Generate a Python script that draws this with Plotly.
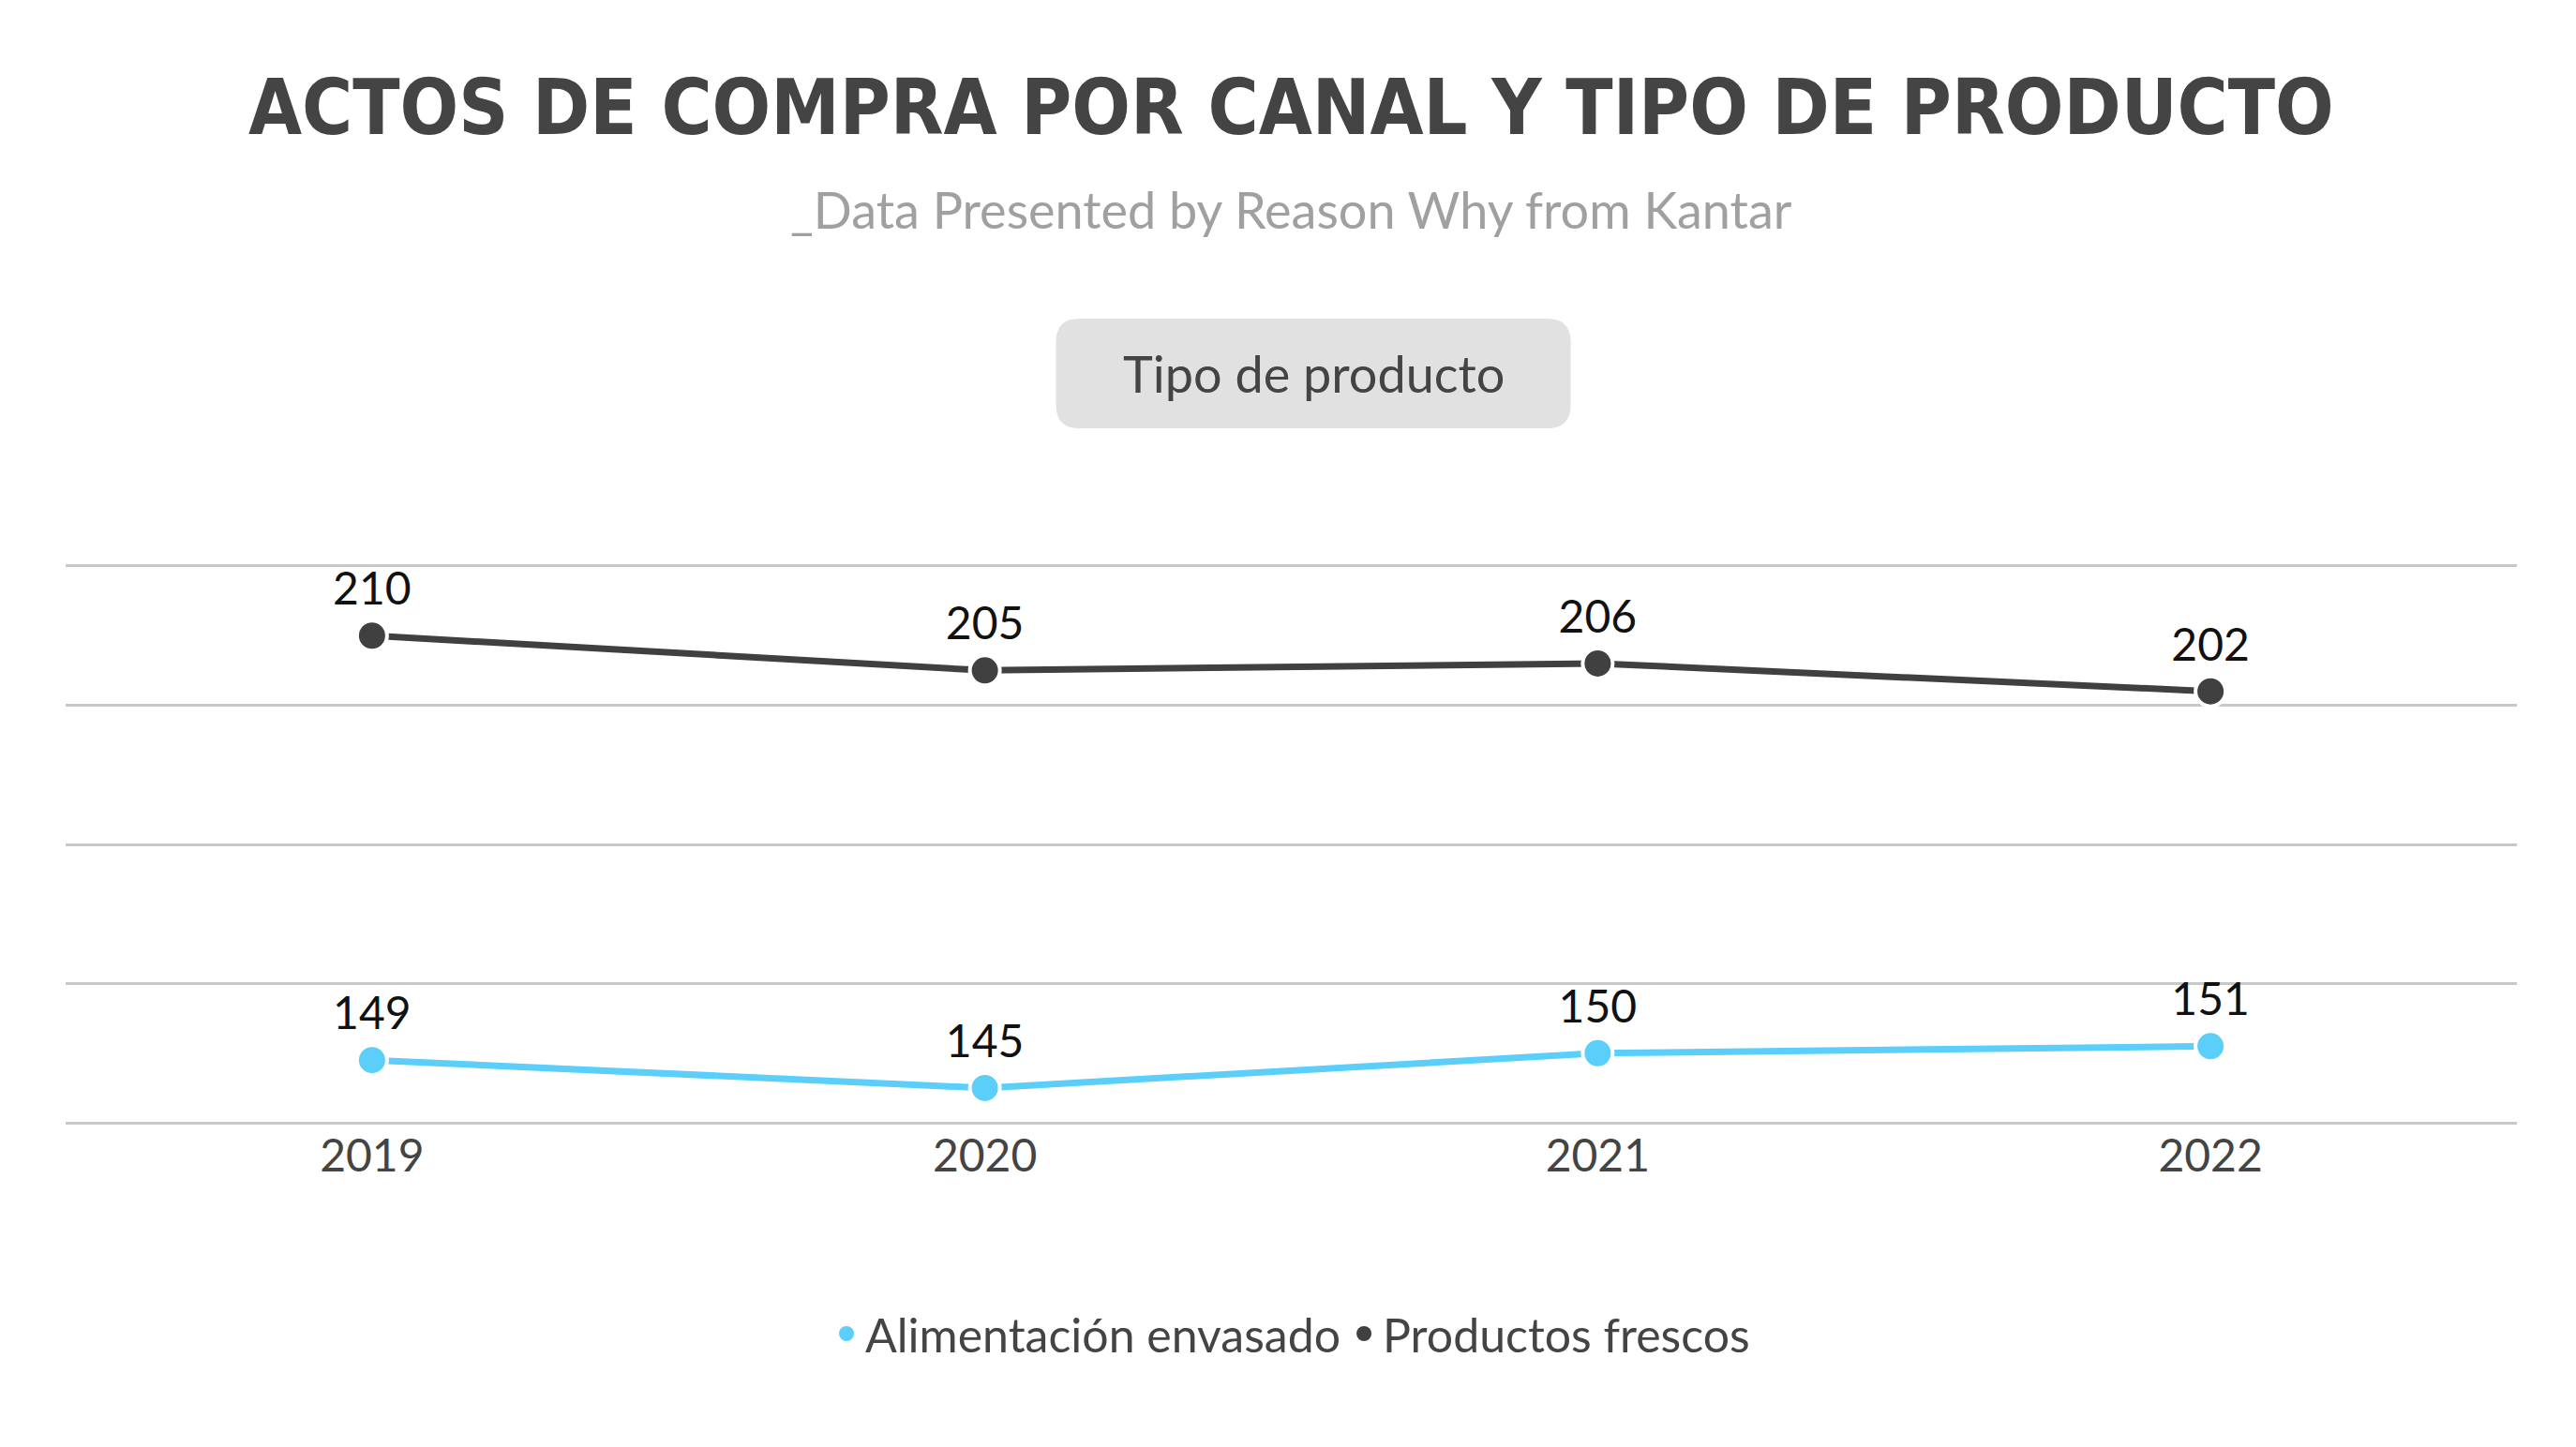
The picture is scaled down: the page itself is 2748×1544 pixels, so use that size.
import plotly.graph_objects as go

years = ["2019", "2020", "2021", "2022"]
envasado = [149, 145, 150, 151]
frescos = [210, 205, 206, 202]
series = [("Alimentación envasado", envasado, "#5bcefa"), ("Productos frescos", frescos, "#404040")]

fig = go.Figure()
for name, vals, col in series:
    fig.add_trace(go.Scatter(x=years, y=vals, name=name, mode="lines+markers+text", showlegend=False,
                             text=[str(v) for v in vals], textposition="top center",
                             textfont=dict(size=48, color="#111111", family="Lato"),
                             line=dict(color=col, width=7),
                             marker=dict(size=32, color=col, line=dict(color="white", width=4))))
# legend-only entries so the legend shows plain dots
for name, vals, col in series:
    fig.add_trace(go.Scatter(x=[None], y=[None], name=name, mode="markers",
                             marker=dict(size=40, color=col)))

# rounded grey box for the "Tipo de producto" tab
x0, x1, y0, y1 = 0.404, 0.614, 1.24, 1.435
rx, ry = 0.0096, 0.0417
path = (f"M {x0+rx},{y0} L {x1-rx},{y0} Q {x1},{y0} {x1},{y0+ry} L {x1},{y1-ry} Q {x1},{y1} {x1-rx},{y1} "
        f"L {x0+rx},{y1} Q {x0},{y1} {x0},{y1-ry} L {x0},{y0+ry} Q {x0},{y0} {x0+rx},{y0} Z")
fig.add_shape(type="path", path=path, xref="paper", yref="paper", fillcolor="#e1e1e1", line_width=0)
fig.add_annotation(text="Tipo de producto", x=(x0+x1)/2, y=(y0+y1)/2, xref="paper", yref="paper",
                   yanchor="middle", showarrow=False, font=dict(size=54, color="#444444", family="Lato"))

fig.add_annotation(text="<b>ACTOS DE COMPRA POR CANAL Y TIPO DE PRODUCTO</b>", x=0.5, y=1.81,
                   xref="paper", yref="paper", yanchor="middle", showarrow=False,
                   font=dict(size=82, color="#444444", family="DejaVu Sans Condensed"))
fig.add_annotation(text="_Data Presented by Reason Why from Kantar", x=0.5, y=1.63,
                   xref="paper", yref="paper", yanchor="middle", showarrow=False,
                   font=dict(size=54, color="#a0a0a0", family="Lato"))

fig.update_layout(
    width=2748, height=1544,
    margin=dict(l=62, r=71, t=593, b=351),
    plot_bgcolor="white", paper_bgcolor="white",
    font=dict(family="Lato", color="#444444"),
    legend=dict(orientation="h", x=0.5, xanchor="center", y=-0.37, yanchor="middle",
                font=dict(size=50, color="#444444"), itemsizing="trace"),
    xaxis=dict(range=[-0.5, 3.5], showgrid=False, showline=False, zeroline=False,
               tickfont=dict(size=48, color="#444444"), ticks=""),
    yaxis=dict(range=[139.6, 220.4], tickvals=[140, 160, 180, 200, 220], showgrid=True,
               gridcolor="#c8c8c8", gridwidth=3, showticklabels=False, zeroline=False, showline=False),
)

fig.write_html("out.html")
